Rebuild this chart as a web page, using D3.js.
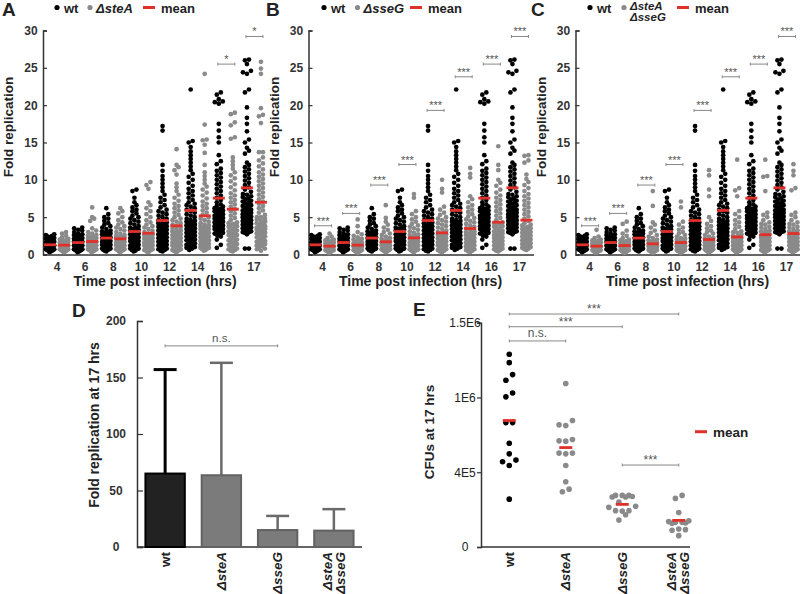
<!DOCTYPE html>
<html><head><meta charset="utf-8">
<script src="https://cdn.jsdelivr.net/npm/d3@7"></script>
<style>body{margin:0;background:#fff}svg{display:block;opacity:0.999}</style>
</head><body>
<svg id="c" width="800" height="594"></svg>
<script>
// ---------------- DATA ----------------
const times = ["4","6","8","10","12","14","16","17"];

// fold replication per cell, wild type (shared by panels A-C)
const wtValues = [
[0.3,0.4,0.5,0.5,0.6,0.6,0.7,0.7,0.8,0.8,0.9,0.9,1.0,1.0,1.0,1.1,1.1,1.2,1.2,1.2,1.3,1.3,1.4,1.4,1.5,1.5,1.6,1.6,1.7,1.8,1.8,1.9,2.0,2.1,2.2,2.3,2.4,2.5,2.6,2.7],
[0.3,0.4,0.5,0.5,0.6,0.6,0.7,0.7,0.8,0.8,0.9,0.9,1.0,1.0,1.0,1.1,1.1,1.2,1.2,1.3,1.3,1.4,1.4,1.5,1.5,1.6,1.6,1.7,1.7,1.8,1.8,1.9,2.0,2.0,2.1,2.2,2.3,2.4,2.5,2.6,2.7,2.8,3.0,3.2,3.3,3.5,3.6],
[0.4,0.5,0.6,0.6,0.7,0.8,0.8,0.9,0.9,1.0,1.0,1.0,1.1,1.2,1.2,1.3,1.3,1.4,1.4,1.5,1.5,1.6,1.7,1.7,1.8,1.9,2.0,2.0,2.1,2.2,2.3,2.4,2.5,2.6,2.7,2.8,2.9,3.0,3.1,3.2,3.4,3.6,3.8,4.0,4.2,4.5,4.8,5.0,5.4,6.2],
[0.4,0.5,0.6,0.7,0.8,0.8,0.9,1.0,1.0,1.1,1.2,1.2,1.3,1.4,1.4,1.5,1.6,1.6,1.7,1.8,1.8,1.9,2.0,2.0,2.1,2.2,2.3,2.4,2.5,2.6,2.7,2.8,2.9,3.0,3.1,3.2,3.3,3.4,3.5,3.6,3.8,4.0,4.2,4.4,4.6,4.8,5.0,5.2,5.5,5.8,6.0,6.3,6.6,7.0,7.6,8.5,8.7],
[0.4,0.5,0.6,0.7,0.8,0.9,1.0,1.1,1.2,1.3,1.4,1.5,1.6,1.7,1.8,1.9,2.0,2.1,2.2,2.3,2.4,2.5,2.6,2.7,2.8,2.9,3.0,3.1,3.2,3.3,3.4,3.5,3.6,3.7,3.8,3.9,4.0,4.1,4.2,4.3,4.5,4.6,4.8,5.0,5.2,5.4,5.6,5.8,6.0,6.3,6.6,7.0,7.3,7.6,8.0,8.5,9.0,9.5,10.0,10.5,11.2,12.0,16.6,17.2],
[0.6,0.8,0.9,1.0,1.1,1.2,1.3,1.5,1.6,1.7,1.8,1.9,2.0,2.1,2.2,2.3,2.4,2.5,2.6,2.8,2.9,3.0,3.1,3.2,3.3,3.4,3.5,3.6,3.7,3.8,3.9,4.0,4.1,4.2,4.3,4.4,4.5,4.6,4.8,5.0,5.2,5.4,5.6,5.8,6.0,6.2,6.4,6.6,6.8,7.0,7.3,7.6,7.9,8.2,8.5,8.8,9.2,9.6,10.0,10.4,10.8,11.3,11.8,12.3,12.8,13.3,13.8,14.4,15.0,15.2,22.1],
[0.9,1.3,2.0,2.4,2.5,2.6,2.8,2.9,3.0,3.1,3.2,3.3,3.4,3.4,3.5,3.6,3.7,3.8,3.9,4.0,4.0,4.1,4.2,4.3,4.3,4.4,4.5,4.6,4.6,4.7,4.8,4.9,5.0,5.0,5.2,5.2,5.4,5.5,5.5,5.6,5.8,5.9,6.0,6.1,6.2,6.4,6.5,6.7,7.0,7.3,7.6,7.9,8.2,8.5,8.8,9.1,9.4,9.7,10.0,10.3,10.6,10.9,11.2,11.5,12.1,12.5,13.3,15.0,15.7,16.6,17.5,20.2,20.4,20.5,20.8,21.4,21.7],
[0.8,0.8,2.7,2.9,3.0,3.0,3.1,3.2,3.3,3.3,3.4,3.5,3.6,3.7,3.8,3.9,4.0,4.1,4.2,4.3,4.4,4.5,4.5,4.6,4.7,4.8,4.9,5.0,5.1,5.2,5.3,5.4,5.6,5.7,5.8,5.9,6.0,6.2,6.3,6.4,6.5,6.6,6.8,6.9,7.0,7.1,7.2,7.4,7.5,7.7,7.8,8.0,8.1,8.4,8.7,9.0,9.3,9.6,9.9,10.2,10.5,10.8,11.1,11.4,11.7,12.0,12.3,13.5,13.9,14.3,15.0,15.4,16.5,17.5,18.3,19.7,21.7,22.1,24.2,24.4,24.6,25.5,26.0,26.1]
];
const steAValues = [
[0.3,0.4,0.4,0.5,0.5,0.6,0.6,0.7,0.7,0.8,0.8,0.8,0.9,0.9,1.0,1.0,1.1,1.1,1.2,1.2,1.3,1.3,1.4,1.4,1.5,1.5,1.6,1.7,1.8,1.9,2.0,2.1,2.3,2.5,2.8,3.0],
[0.3,0.4,0.5,0.5,0.6,0.6,0.7,0.7,0.8,0.8,0.8,0.9,0.9,1.0,1.0,1.0,1.1,1.1,1.1,1.2,1.2,1.2,1.3,1.3,1.4,1.4,1.5,1.5,1.6,1.7,1.7,1.8,1.9,2.0,2.1,2.2,2.3,2.4,2.5,2.6,2.8,3.0,3.2,3.5,4.5,4.8,5.0,6.3],
[0.3,0.4,0.5,0.6,0.6,0.7,0.7,0.8,0.8,0.9,0.9,0.9,1.0,1.0,1.1,1.1,1.2,1.2,1.3,1.3,1.4,1.4,1.5,1.5,1.6,1.7,1.8,1.9,2.0,2.1,2.2,2.3,2.4,2.5,2.6,2.8,3.0,3.2,3.4,3.6,3.8,4.0,4.3,4.6,5.0,5.5,5.8,6.2],
[0.3,0.4,0.5,0.6,0.6,0.7,0.8,0.8,0.9,1.0,1.0,1.0,1.1,1.2,1.2,1.3,1.4,1.4,1.5,1.6,1.6,1.7,1.8,1.8,1.9,2.0,2.1,2.2,2.3,2.4,2.5,2.6,2.7,2.8,3.0,3.2,3.4,3.6,3.8,4.0,4.3,4.6,5.0,5.4,5.8,6.2,6.6,7.0,8.8,9.3,9.7],
[0.3,0.4,0.5,0.5,0.6,0.6,0.7,0.8,0.8,0.9,0.9,1.0,1.1,1.2,1.2,1.3,1.4,1.5,1.5,1.6,1.7,1.8,1.8,1.9,2.0,2.0,2.1,2.2,2.3,2.4,2.5,2.6,2.7,2.8,2.9,3.0,3.1,3.2,3.3,3.5,3.6,3.8,4.0,4.2,4.4,4.6,4.8,5.0,5.3,5.6,5.9,6.2,6.5,6.8,7.2,7.6,8.0,8.5,9.0,9.5,10.7,11.3,11.7,12.0,14.1],
[0.5,0.6,0.7,0.8,0.9,0.9,1.0,1.1,1.2,1.3,1.4,1.5,1.5,1.6,1.7,1.8,1.9,2.0,2.0,2.1,2.2,2.3,2.4,2.5,2.6,2.7,2.8,2.9,3.0,3.1,3.2,3.3,3.4,3.5,3.6,3.7,3.8,3.9,4.0,4.2,4.4,4.6,4.8,5.0,5.3,5.6,5.9,6.2,6.5,6.8,7.1,7.5,7.9,8.3,8.7,9.1,9.5,10.0,10.5,11.0,12.0,13.6,14.7,15.3,15.4,17.4,24.2],
[0.4,0.5,0.6,0.7,0.8,1.0,1.1,1.2,1.3,1.4,1.6,1.7,1.8,1.9,2.0,2.2,2.3,2.4,2.5,2.6,2.6,2.8,2.9,3.0,3.1,3.2,3.4,3.5,3.6,3.7,3.8,4.0,4.1,4.2,4.3,4.6,4.9,5.2,5.5,5.8,6.1,6.4,6.7,7.0,7.3,7.6,7.9,8.2,8.6,9.0,9.4,9.8,10.2,10.6,11.0,11.5,12.0,12.5,13.0,15.5,15.7,17.3,17.7,18.8,19.0],
[0.5,0.7,0.8,1.0,1.1,1.2,1.4,1.5,1.6,1.7,1.8,2.0,2.0,2.2,2.3,2.4,2.5,2.6,2.7,2.8,2.9,3.0,3.0,3.2,3.3,3.4,3.5,3.5,3.6,3.8,4.0,4.0,4.1,4.2,4.4,4.5,4.7,4.8,5.0,5.0,5.3,5.6,5.9,6.2,6.5,6.8,7.1,7.4,7.7,8.0,8.3,8.6,8.9,9.2,9.5,9.8,10.1,10.4,10.7,11.0,11.4,11.8,12.2,12.6,13.0,13.7,13.7,17.6,18.5,18.7,19.6,24.2,24.9,25.8]
];
const sseGValues = [
[0.2,0.3,0.4,0.4,0.5,0.5,0.6,0.6,0.7,0.7,0.8,0.8,0.9,0.9,1.0,1.0,1.0,1.1,1.1,1.2,1.2,1.3,1.3,1.4,1.4,1.5,1.5,1.6,1.7,1.8,1.9,2.0,2.2,2.4,2.8],
[0.2,0.3,0.3,0.4,0.4,0.4,0.5,0.5,0.5,0.6,0.6,0.6,0.6,0.7,0.7,0.7,0.8,0.8,0.8,0.9,0.9,1.0,1.0,1.0,1.1,1.1,1.2,1.2,1.3,1.3,1.4,1.4,1.5,1.5,1.6,1.7,1.8,1.9,2.0,2.1,2.3,2.5,2.7,3.0,3.8,4.7],
[0.3,0.4,0.4,0.5,0.5,0.6,0.6,0.7,0.7,0.8,0.8,0.8,0.9,0.9,0.9,1.0,1.0,1.0,1.1,1.1,1.2,1.2,1.3,1.3,1.4,1.5,1.5,1.6,1.7,1.8,1.9,2.0,2.1,2.2,2.4,2.6,2.8,3.0,3.3,3.6,4.0,4.4,4.9,6.6],
[0.3,0.4,0.5,0.5,0.6,0.6,0.6,0.7,0.7,0.8,0.8,0.8,0.9,0.9,1.0,1.0,1.0,1.1,1.1,1.2,1.2,1.3,1.3,1.4,1.5,1.6,1.7,1.8,1.9,2.0,2.1,2.2,2.3,2.4,2.5,2.6,2.7,2.9,3.1,3.3,3.5,3.7,3.9,4.1,4.4,4.7,5.0,5.4,5.8,7.6,8.1],
[0.3,0.4,0.5,0.6,0.7,0.8,0.9,1.0,1.0,1.1,1.2,1.2,1.3,1.4,1.4,1.5,1.6,1.6,1.7,1.8,1.8,1.9,2.0,2.1,2.2,2.3,2.4,2.5,2.6,2.7,2.8,2.9,3.0,3.2,3.4,3.6,3.8,4.0,4.2,4.4,4.6,4.8,5.0,5.3,5.6,6.0,6.4,8.3,8.8,10.0],
[0.3,0.4,0.5,0.6,0.7,0.8,0.9,1.0,1.1,1.2,1.3,1.4,1.5,1.5,1.6,1.7,1.8,1.9,2.0,2.0,2.1,2.2,2.3,2.4,2.5,2.6,2.7,2.8,2.9,3.0,3.1,3.3,3.5,3.7,3.9,4.1,4.3,4.5,4.7,4.9,5.1,5.4,5.7,6.0,6.3,6.6,7.0,7.4,7.8,10.3,10.8,11.6],
[0.4,0.5,0.6,0.7,0.8,0.9,1.0,1.1,1.2,1.3,1.4,1.5,1.6,1.7,1.8,1.9,2.0,2.2,2.3,2.4,2.5,2.6,2.8,2.9,3.0,3.1,3.2,3.4,3.5,3.6,3.7,3.8,4.0,4.1,4.2,4.3,4.6,4.9,5.2,5.5,5.8,6.1,6.4,6.7,7.0,7.3,7.6,7.9,8.3,8.7,9.2,9.6,10.0,11.3,12.0,14.5],
[0.6,0.7,0.8,0.9,1.0,1.1,1.2,1.3,1.4,1.5,1.6,1.7,1.8,1.9,2.0,2.1,2.2,2.3,2.4,2.5,2.6,2.7,2.8,2.9,3.0,3.1,3.2,3.3,3.4,3.5,3.6,3.7,3.9,4.0,4.2,4.5,4.8,5.1,5.4,5.7,6.0,6.3,6.6,6.9,7.2,7.5,7.8,8.1,8.5,8.9,9.3,9.7,10.1,10.7,12.3,12.6,13.2,13.3]
];
const steAsseGValues = [
[0.2,0.3,0.3,0.4,0.4,0.5,0.5,0.5,0.6,0.6,0.7,0.7,0.8,0.8,0.9,0.9,1.0,1.0,1.0,1.1,1.1,1.2,1.2,1.3,1.3,1.4,1.4,1.5,1.5,1.6,1.7,1.8,1.9,2.0,2.2,2.4,3.3],
[0.2,0.3,0.3,0.3,0.4,0.4,0.4,0.5,0.5,0.5,0.6,0.6,0.6,0.6,0.7,0.7,0.7,0.8,0.8,0.8,0.9,0.9,1.0,1.0,1.0,1.1,1.1,1.2,1.2,1.3,1.3,1.4,1.4,1.5,1.5,1.6,1.7,1.8,1.9,2.0,2.2,2.5,2.8,3.2,4.1,4.4],
[0.2,0.3,0.3,0.3,0.4,0.4,0.4,0.5,0.5,0.5,0.5,0.5,0.6,0.6,0.6,0.6,0.6,0.7,0.7,0.7,0.7,0.8,0.8,0.8,0.8,0.9,0.9,0.9,0.9,1.0,1.0,1.0,1.0,1.1,1.1,1.2,1.2,1.3,1.4,1.5,1.6,1.7,1.8,1.9,2.0,2.2,2.4,2.6,2.9,3.2,3.6,4.0,4.3,6.5,8.5],
[0.2,0.3,0.3,0.4,0.4,0.4,0.5,0.5,0.5,0.6,0.6,0.6,0.7,0.7,0.8,0.8,0.8,0.9,0.9,0.9,1.0,1.0,1.0,1.1,1.1,1.1,1.2,1.2,1.2,1.3,1.4,1.5,1.6,1.7,1.8,1.9,2.0,2.1,2.2,2.4,2.6,2.8,3.0,3.3,3.6,4.0,4.4,6.3,7.1],
[0.3,0.3,0.4,0.4,0.4,0.5,0.5,0.5,0.5,0.6,0.6,0.6,0.7,0.7,0.7,0.7,0.8,0.8,0.8,0.9,0.9,0.9,0.9,1.0,1.0,1.0,1.0,1.1,1.1,1.1,1.2,1.2,1.2,1.3,1.3,1.4,1.4,1.5,1.6,1.7,1.8,1.9,2.0,2.1,2.2,2.4,2.6,2.8,3.0,3.2,3.5,3.8,4.1,4.5,5.0,7.8,8.7,10.6,11.3],
[0.3,0.3,0.4,0.4,0.5,0.5,0.5,0.6,0.6,0.7,0.7,0.8,0.8,0.9,0.9,0.9,1.0,1.0,1.1,1.1,1.2,1.2,1.3,1.3,1.4,1.4,1.5,1.6,1.6,1.7,1.7,1.8,1.8,1.9,2.0,2.0,2.1,2.2,2.2,2.3,2.5,2.5,2.7,2.9,3.0,3.1,3.4,3.7,4.0,4.3,4.6,5.0,5.4,5.8,7.8,8.6,8.9,12.7],
[0.3,0.4,0.4,0.5,0.5,0.6,0.6,0.7,0.8,0.8,0.9,0.9,1.0,1.0,1.1,1.2,1.2,1.3,1.3,1.4,1.4,1.5,1.6,1.6,1.7,1.7,1.8,1.8,1.9,2.0,2.0,2.1,2.2,2.2,2.3,2.5,2.5,2.7,2.9,3.0,3.1,3.2,3.4,3.6,3.7,4.0,4.1,4.3,4.6,5.0,5.3,5.6,8.5,10.4,10.5,12.7],
[0.3,0.4,0.4,0.5,0.5,0.6,0.6,0.7,0.8,0.8,0.9,0.9,1.0,1.0,1.1,1.2,1.2,1.3,1.3,1.4,1.4,1.5,1.6,1.6,1.7,1.7,1.8,1.8,1.9,2.0,2.0,2.1,2.2,2.2,2.3,2.5,2.5,2.7,2.9,3.0,3.1,3.2,3.4,3.6,3.7,4.0,4.1,4.3,4.6,5.0,5.3,5.6,8.6,8.9,10.6,11.2,12.1]
];
// group means (red bars)
const wtMeans      = [1.3,1.6,2.2,3.08,4.55,5.9,7.55,8.93];
const steAMeans    = [1.25,1.74,2.1,2.86,3.84,5.18,6.07,7.0];
const sseGMeans    = [1.12,1.25,1.7,2.23,2.9,3.48,4.33,4.6];
const steAsseGMeans= [1.12,1.2,1.43,1.6,2.0,2.35,2.65,2.81];
// significance annotations
const sigA  = ["","","","","","","*","*"];
const sigBC = ["***","***","***","***","***","***","***","***"];
const sigLevels = [3.85,5.5,9.3,12.05,19.3,23.8,25.5,29.2];
const yTicksABC = [0,5,10,15,20,25,30];

// Panel D
const strains = ["wt","ΔsteA","ΔsseG","ΔsteA ΔsseG"];
const strainLines = [["wt"],["ΔsteA"],["ΔsseG"],["ΔsteA","ΔsseG"]];
const fold17Mean = [65,63.5,15,14.5];
const fold17SD   = [92,99.5,12.5,19];
const yTicksD = [0,50,100,150,200];
const sigD = {from:0,to:2,level:178,label:"n.s."};

// Panel E
const cfuWt     = [1289000,1233000,1153000,1115000,1030000,1004000,832000,832000,694000,623000,581000,570000,545000,320000];
const cfuSteA   = [1093000,846000,817000,812000,719000,710000,708000,628000,628000,623000,545000,436000,387000,369000];
const cfuSseG   = [345000,345000,345000,338000,334000,334000,300000,272000,265000,243000,243000,240000,216000,180000];
const cfuDouble = [345000,325000,231000,175000,170000,165000,165000,160000,158000,120000,116000,112000,76000];
const cfuMeans  = [846000,665000,285000,178000];
const yTicksE = [0,500000,1000000,1500000];
const yTickLabelsE = ["0","4E5","1E6","1.5E6"];
const sigE = [
  {from:0,to:3,level:1558000,label:"***"},
  {from:0,to:2,level:1473000,label:"***"},
  {from:0,to:1,level:1378000,label:"n.s."},
  {from:2,to:3,level:548000,label:"***"}
];

// ---------------- DRAWING ----------------
const FONT = '"Liberation Sans", Arial, Helvetica, sans-serif';
const BLACK = "#000", GREY = "#8a8a8a", RED = "#e0302a", AX = "#333";
const svg = d3.select("#c").style("font-family", FONT);

// row-based scatter layout (Prism style): points in the same row are spread symmetrically
function rowLayout(vals, yfun, rowH, spacing, maxHalf) {
  const idx = d3.range(vals.length).sort((a,b)=>vals[a]-vals[b]);
  const off = new Array(vals.length).fill(0);
  let row = [], y0 = null;
  const flush = () => {
    const n = row.length; if (!n) return;
    let sp = spacing;
    if (maxHalf != null && n > 1) sp = Math.min(spacing, 2*maxHalf/(n-1));
    const slots = d3.range(n).map(j => (j-(n-1)/2)*sp);
    slots.sort((a,b)=>Math.abs(a)-Math.abs(b) || a-b);
    row.forEach((i,k)=>off[i]=slots[k]);
    row = [];
  };
  for (const i of idx) {
    const py = yfun(vals[i]);
    if (y0 === null || Math.abs(py-y0) > rowH) { flush(); y0 = py; }
    row.push(i);
  }
  flush();
  return off;
}

function bracket(g, x1, x2, y, label, fs) {
  g.append("line").attr("x1",x1).attr("x2",x2).attr("y1",y).attr("y2",y).attr("stroke","#888").attr("stroke-width",1);
  [x1,x2].forEach(x=>g.append("line").attr("x1",x).attr("x2",x).attr("y1",y-1.5).attr("y2",y+1.5).attr("stroke","#888").attr("stroke-width",1));
  g.append("text").attr("x",(x1+x2)/2).attr("y", label.startsWith("*") ? y-1 : y-4)
    .attr("text-anchor","middle").attr("font-size",fs).attr("fill","#555").text(label);
}

function scatterPanel(opt) {
  const g = svg.append("g");
  const x0 = opt.x0;
  const y = d3.scaleLinear().domain([0,30]).range([254.5,30.5]);
  const x = d3.scaleBand().domain(times).range([x0, x0+225]);
  const c = t => x(t) + x.bandwidth()/2;
  // y axis
  const ya = g.append("g").attr("transform",`translate(${x0},0)`)
    .call(d3.axisLeft(y).tickValues(yTicksABC).tickSize(-4).tickPadding(0));
  ya.select(".domain").attr("stroke",AX).attr("stroke-width",1.5);
  ya.selectAll(".tick line").attr("stroke",AX).attr("stroke-width",1.2);
  ya.selectAll(".tick text").attr("x",-12).attr("text-anchor","middle").attr("font-size",12)
    .attr("font-weight","bold").attr("font-family",FONT).attr("fill","#333");
  // x axis
  const xa = g.append("g").attr("transform",`translate(0,${y(0)})`)
    .call(d3.axisBottom(x).tickSize(0).tickPadding(8));
  xa.select(".domain").attr("stroke",AX).attr("stroke-width",1.5);
  xa.selectAll(".tick text").attr("font-size",12).attr("font-weight","bold").attr("font-family",FONT).attr("fill","#333");
  // titles
  g.append("text").attr("transform",`translate(${x0-30},127) rotate(-90)`).attr("text-anchor","middle")
    .attr("font-size",13.5).attr("font-weight","bold").attr("fill","#222").text("Fold replication");
  g.append("text").attr("x",x0+112).attr("y",286).attr("text-anchor","middle")
    .attr("font-size",14).attr("font-weight","bold").attr("fill","#222").text("Time post infection (hrs)");
  // dots
  const series = [
    {vals: wtValues, dx: -7, color: BLACK},
    {vals: opt.mut, dx: 7, color: GREY}
  ];
  series.forEach(s => {
    times.forEach((t,i) => {
      const vals = s.vals[i];
      const off = rowLayout(vals, y, 3.6, 4.0, 4.2);
      g.append("g").selectAll("circle").data(vals).join("circle")
        .attr("cx",(d,k)=>c(t)+s.dx+off[k]).attr("cy",d=>y(d)).attr("r",2.35).attr("fill",s.color);
    });
  });
  // means
  [[wtMeans,-7],[opt.mutMeans,7]].forEach(([m,dx])=>{
    g.append("g").selectAll("line").data(times).join("line")
      .attr("x1",(t)=>c(t)+dx-6).attr("x2",(t)=>c(t)+dx+6)
      .attr("y1",(t,i)=>y(m[i])).attr("y2",(t,i)=>y(m[i]))
      .attr("stroke",RED).attr("stroke-width",2.8);
  });
  // significance
  times.forEach((t,i)=>{
    if (!opt.sig[i]) return;
    bracket(g, c(t)-8, c(t)+9, y(sigLevels[i]), opt.sig[i], 11);
  });
  // panel letter & legend
  g.append("text").attr("x",opt.letterX).attr("y",16).attr("font-size",19).attr("font-weight","bold").attr("fill","#222").text(opt.letter);
  const L = opt.legend;
  g.append("circle").attr("cx",L.d1).attr("cy",7.5).attr("r",2.6).attr("fill",BLACK);
  g.append("text").attr("x",L.d1+7).attr("y",12.5).attr("font-size",13).attr("font-weight","bold").attr("fill","#222").text("wt");
  g.append("circle").attr("cx",L.d2).attr("cy",7.5).attr("r",2.6).attr("fill",GREY);
  if (opt.mutName.length === 1) {
    g.append("text").attr("x",L.d2+6).attr("y",12.5).attr("font-size",13).attr("font-weight","bold").attr("font-style","italic").attr("fill","#222").text(opt.mutName[0]);
  } else {
    opt.mutName.forEach((nm,k)=>g.append("text").attr("x",L.d2+6).attr("y",9.5+k*11).attr("font-size",11.5).attr("font-weight","bold").attr("font-style","italic").attr("fill","#222").text(nm));
  }
  g.append("line").attr("x1",L.m).attr("x2",L.m+12).attr("y1",7.5).attr("y2",7.5).attr("stroke",RED).attr("stroke-width",3);
  g.append("text").attr("x",L.m+18).attr("y",12.5).attr("font-size",13).attr("font-weight","bold").attr("fill","#222").text("mean");
}

scatterPanel({x0:43, mut:steAValues, mutMeans:steAMeans, sig:sigA, letter:"A", letterX:2, mutName:["ΔsteA"], legend:{d1:57,d2:90,m:143}});
scatterPanel({x0:308.5, mut:sseGValues, mutMeans:sseGMeans, sig:sigBC, letter:"B", letterX:266, mutName:["ΔsseG"], legend:{d1:324,d2:357.5,m:410}});
scatterPanel({x0:575.5, mut:steAsseGValues, mutMeans:steAsseGMeans, sig:sigBC, letter:"C", letterX:531, mutName:["ΔsteA","ΔsseG"], legend:{d1:590,d2:624,m:677}});

function rotLabels(g, xc, yTop) {
  strainLines.forEach((lines,i)=>{
    lines.forEach((ln,k)=>{
      const off = lines.length===1 ? 0 : (k===0 ? -7 : 6);
      g.append("text").attr("transform",`translate(${xc(strains[i])+off},${yTop}) rotate(-90)`)
        .attr("text-anchor","end").attr("dy","0.35em").attr("font-size",13.5).attr("font-weight","bold")
        .attr("font-style", ln==="wt" ? "normal" : "italic").attr("fill","#222").text(ln);
    });
  });
}

// ---- Panel D ----
(function(){
  const g = svg.append("g");
  const y = d3.scaleLinear().domain([0,200]).range([547,321]);
  const x = d3.scaleBand().domain(strains).range([137,362]).paddingInner(0.3).paddingOuter(0.15);
  const xc = s => x(s)+x.bandwidth()/2;
  const ya = g.append("g").attr("transform","translate(137,0)").call(d3.axisLeft(y).tickValues(yTicksD).tickSize(-6).tickPadding(0));
  ya.select(".domain").attr("stroke",AX).attr("stroke-width",1.5);
  ya.selectAll(".tick line").attr("stroke",AX).attr("stroke-width",1.2);
  ya.selectAll(".tick text").attr("x",-21).attr("text-anchor","middle").attr("font-size",12).attr("font-weight","bold").attr("font-family",FONT).attr("fill","#333");
  g.append("line").attr("x1",137).attr("x2",362).attr("y1",y(0)).attr("y2",y(0)).attr("stroke",AX).attr("stroke-width",1.5);
  // error bars
  strains.forEach((s,i)=>{
    const col = i===0 ? "#000" : "#6a6a6a";
    const sw = i===0 ? 3 : 2.5;
    g.append("line").attr("x1",xc(s)).attr("x2",xc(s)).attr("y1",y(fold17Mean[i])).attr("y2",y(fold17Mean[i]+fold17SD[i])).attr("stroke",col).attr("stroke-width",sw);
    g.append("line").attr("x1",xc(s)-11.5).attr("x2",xc(s)+11.5).attr("y1",y(fold17Mean[i]+fold17SD[i])).attr("y2",y(fold17Mean[i]+fold17SD[i])).attr("stroke",col).attr("stroke-width",sw);
  });
  g.append("g").selectAll("rect").data(strains).join("rect")
    .attr("x",d=>x(d)).attr("width",x.bandwidth())
    .attr("y",(d,i)=>y(fold17Mean[i])).attr("height",(d,i)=>y(0)-y(fold17Mean[i]))
    .attr("fill",(d,i)=>i===0?"#222":"#7b7b7b").attr("stroke",(d,i)=>i===0?"#000":"#626262").attr("stroke-width",2);
  bracket(g, xc(strains[sigD.from]), xc(strains[sigD.to]), y(sigD.level), sigD.label, 11.5);
  g.append("text").attr("transform","translate(99,425) rotate(-90)").attr("text-anchor","middle")
    .attr("font-size",14).attr("font-weight","bold").attr("fill","#222").text("Fold replication at 17 hrs");
  rotLabels(g, xc, 552);
  g.append("text").attr("x",72).attr("y",317).attr("font-size",19).attr("font-weight","bold").attr("fill","#222").text("D");
})();

// ---- Panel E ----
(function(){
  const g = svg.append("g");
  const y = d3.scaleLinear().domain([0,1500000]).range([547,322.7]);
  const x = d3.scaleBand().domain(strains).range([481,707]);
  const xc = s => x(s)+x.bandwidth()/2;
  const ya = g.append("g").attr("transform","translate(481,0)")
    .call(d3.axisLeft(y).tickValues(yTicksE).tickFormat((d,i)=>yTickLabelsE[i]).tickSize(4).tickPadding(0));
  ya.select(".domain").attr("stroke",AX).attr("stroke-width",1.5);
  ya.selectAll(".tick line").attr("stroke",AX).attr("stroke-width",1.2);
  ya.selectAll(".tick text").attr("x",-16).attr("text-anchor","middle").attr("font-size",12).attr("font-family",FONT).attr("fill","#222");
  g.append("line").attr("x1",481).attr("x2",690).attr("y1",y(0)).attr("y2",y(0)).attr("stroke",AX).attr("stroke-width",1.5);
  const sets = [cfuWt,cfuSteA,cfuSseG,cfuDouble];
  sets.forEach((vals,i)=>{
    const off = rowLayout(vals, y, 6, 6.7, null);
    g.append("g").selectAll("circle").data(vals).join("circle")
      .attr("cx",(d,k)=>xc(strains[i])+off[k]).attr("cy",d=>y(d)).attr("r",2.8)
      .attr("fill", i===0 ? BLACK : GREY);
  });
  g.append("g").selectAll("line").data(strains).join("line")
    .attr("x1",d=>xc(d)-6.5).attr("x2",d=>xc(d)+6.5)
    .attr("y1",(d,i)=>y(cfuMeans[i])).attr("y2",(d,i)=>y(cfuMeans[i]))
    .attr("stroke",RED).attr("stroke-width",2.8);
  sigE.forEach(s=>bracket(g, xc(strains[s.from]), xc(strains[s.to]), y(s.level), s.label, 12));
  g.append("line").attr("x1",695).attr("x2",707).attr("y1",431.7).attr("y2",431.7).attr("stroke",RED).attr("stroke-width",3);
  g.append("text").attr("x",713).attr("y",436.5).attr("font-size",13.5).attr("font-weight","bold").attr("fill","#222").text("mean");
  g.append("text").attr("transform","translate(434,432) rotate(-90)").attr("text-anchor","middle")
    .attr("font-size",13.5).attr("font-weight","bold").attr("fill","#222").text("CFUs at 17 hrs");
  rotLabels(g, xc, 552);
  g.append("text").attr("x",413).attr("y",316).attr("font-size",19).attr("font-weight","bold").attr("fill","#222").text("E");
})();
</script>
</body></html>
